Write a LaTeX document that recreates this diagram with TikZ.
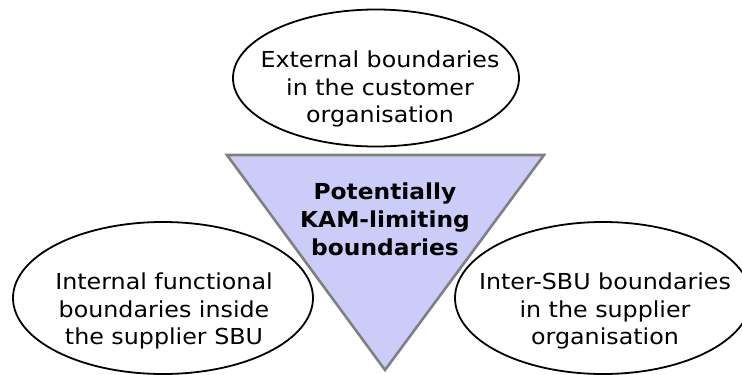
\documentclass[tikz,border=0pt]{standalone}
\usepackage{fontspec}
\setmainfont{DejaVu Sans}[FakeStretch=1.08, BoldFeatures={FakeStretch=1.06}]
\usetikzlibrary{shapes.geometric}
\definecolor{trifill}{HTML}{CCCCF8}
\definecolor{triline}{HTML}{808080}
\tikzset{
  ell/.style={ellipse, draw=black, line width=1.8pt, fill=white, inner sep=0pt},
  txt/.style={align=center, inner sep=0pt, font=\fontsize{22}{27.5}\selectfont},
  btxt/.style={align=center, inner sep=0pt, font=\bfseries\fontsize{22}{28}\selectfont},
  tri/.style={draw=triline, fill=trifill, line width=2.6pt, line join=miter}
}
\begin{document}
\begin{tikzpicture}[x=1pt,y=-1pt]
\useasboundingbox (0,0) rectangle (742,375);
\node[ell, minimum width=286pt, minimum height=137pt] (top) at (376,78) {};
\node[txt] (toptext) at (380,89) {External boundaries\\in the customer\\organisation};
\node[ell, minimum width=300pt, minimum height=152pt] (left) at (163,298) {};
\node[txt] (lefttext) at (164,311) {Internal functional\\boundaries inside\\the supplier SBU};
\node[ell, minimum width=296pt, minimum height=152pt] (right) at (603,298) {};
\node[txt] (righttext) at (605,311) {Inter-SBU boundaries\\in the supplier\\organisation};
\coordinate (tl) at (227,155);
\coordinate (tr) at (544,155);
\coordinate (tb) at (385,370);
\draw[tri] (tl) -- (tr) -- (tb) -- cycle;
\node[btxt] (centertext) at (385,219) {Potentially\\KAM-limiting\\boundaries};
\end{tikzpicture}
\end{document}
